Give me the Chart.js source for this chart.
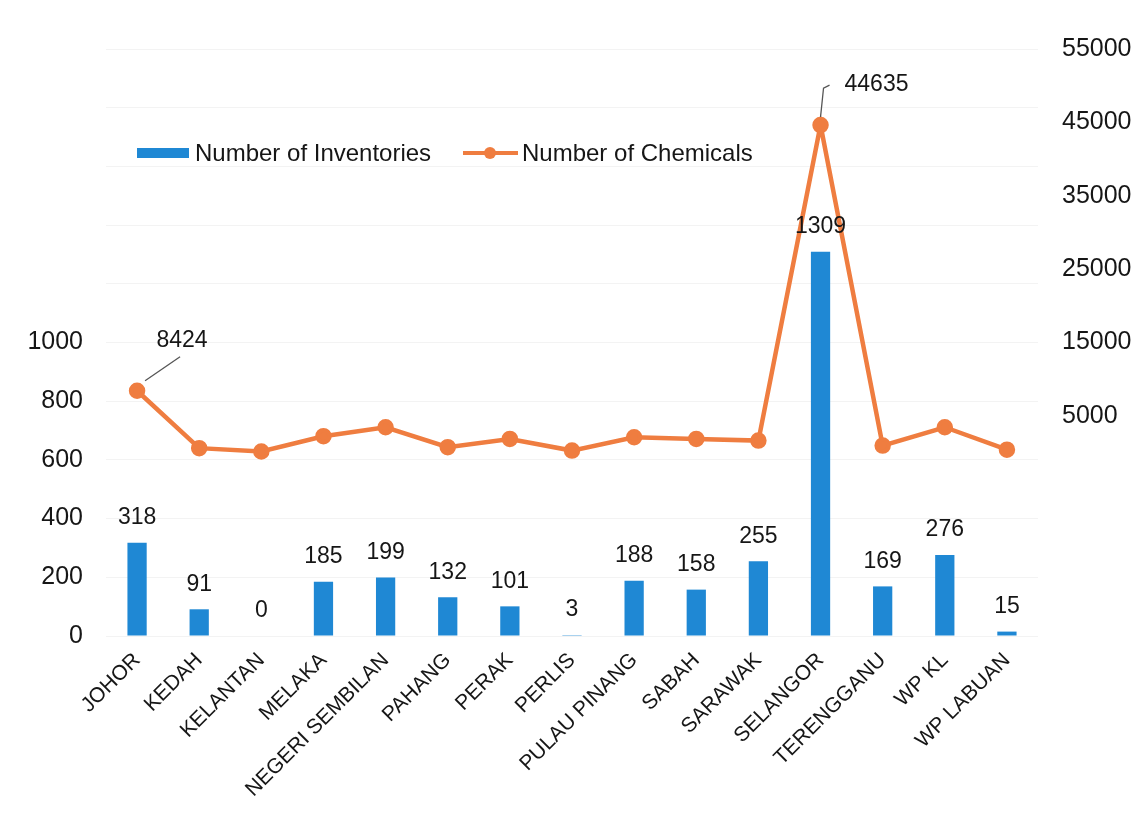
<!DOCTYPE html>
<html>
<head>
<meta charset="utf-8">
<script src="https://cdn.jsdelivr.net/npm/chart.js@4.4.1/dist/chart.umd.min.js"></script>
<style>
  html, body { margin: 0; padding: 0; background: #ffffff; }
  #wrap { width: 1137px; height: 819px; position: relative; }
</style>
</head>
<body>
<div id="wrap"><canvas id="c" width="1137" height="819"></canvas></div>
<script>
// States of Malaysia
const states = ['JOHOR', 'KEDAH', 'KELANTAN', 'MELAKA', 'NEGERI SEMBILAN', 'PAHANG', 'PERAK',
  'PERLIS', 'PULAU PINANG', 'SABAH', 'SARAWAK', 'SELANGOR', 'TERENGGANU', 'WP KL', 'WP LABUAN'];

// Number of inventories per state (left axis)
const inventories = [318, 91, 0, 185, 199, 132, 101, 3, 188, 158, 255, 1309, 169, 276, 15];

// Number of chemicals per state (right axis)
const chemicals = [8424, 600, 140, 2230, 3450, 730, 1860, 270, 2090, 1860, 1630, 44635, 950, 3450, 400];

// Tick labels shown on each value axis
const inventoryTicks = [0, 200, 400, 600, 800, 1000];
const chemicalTicks = [5000, 15000, 25000, 35000, 45000, 55000];

// Chemical counts that carry a value label
const labelledChemicals = ['JOHOR', 'SELANGOR'];

const FONT = "'Liberation Sans', Arial, sans-serif";
const BLUE = '#1f88d4';
const ORANGE = '#ef7d40';
const TEXT = '#161616';

// Legend drawn inside the plot area
const insideLegend = {
  id: 'insideLegend',
  afterDraw(chart) {
    const ctx = chart.ctx;
    const bar = chart.data.datasets[0];
    const line = chart.data.datasets[1];
    ctx.save();
    ctx.font = '24px ' + FONT;
    ctx.textBaseline = 'middle';
    ctx.textAlign = 'left';
    const y = 153;
    ctx.fillStyle = bar.backgroundColor;
    ctx.fillRect(137, y - 5, 52, 10);
    ctx.fillStyle = TEXT;
    ctx.fillText(bar.label, 195, y + 1);
    ctx.strokeStyle = line.borderColor;
    ctx.lineWidth = 4;
    ctx.beginPath();
    ctx.moveTo(463, y);
    ctx.lineTo(518, y);
    ctx.stroke();
    ctx.fillStyle = line.borderColor;
    ctx.beginPath();
    ctx.arc(490, y, 6, 0, Math.PI * 2);
    ctx.fill();
    ctx.fillStyle = TEXT;
    ctx.fillText(line.label, 522, y + 1);
    ctx.restore();
  }
};

// Value labels: above every bar, and with leader lines for selected line points
const valueLabels = {
  id: 'valueLabels',
  afterDatasetsDraw(chart) {
    const ctx = chart.ctx;
    ctx.save();
    ctx.fillStyle = TEXT;
    ctx.textAlign = 'center';
    ctx.textBaseline = 'middle';
    ctx.font = '23px ' + FONT;
    const barMeta = chart.getDatasetMeta(0);
    barMeta.data.forEach((el, i) => {
      ctx.fillText(String(inventories[i]), el.x, el.y - 25);
    });
    const lineMeta = chart.getDatasetMeta(1);
    ctx.strokeStyle = '#555555';
    ctx.lineWidth = 1.3;
    lineMeta.data.forEach((el, i) => {
      if (!labelledChemicals.includes(states[i])) return;
      const text = String(chemicals[i]);
      if (el.y > chart.chartArea.top + 150) {
        // leader going up and to the right
        ctx.beginPath();
        ctx.moveTo(el.x + 8, el.y - 10);
        ctx.lineTo(el.x + 43, el.y - 34);
        ctx.stroke();
        ctx.textAlign = 'center';
        ctx.fillText(text, el.x + 45, el.y - 50);
      } else {
        // near-vertical leader with a short hook at the top
        ctx.beginPath();
        ctx.moveTo(el.x, el.y - 8);
        ctx.lineTo(el.x + 3, el.y - 37);
        ctx.lineTo(el.x + 9, el.y - 40);
        ctx.stroke();
        ctx.textAlign = 'left';
        ctx.fillText(text, el.x + 24, el.y - 40);
      }
    });
    ctx.restore();
  }
};

new Chart(document.getElementById('c'), {
  data: {
    labels: states,
    datasets: [
      {
        type: 'bar',
        label: 'Number of Inventories',
        data: inventories,
        yAxisID: 'y',
        backgroundColor: BLUE,
        barPercentage: 0.31,
        categoryPercentage: 1,
        order: 1
      },
      {
        type: 'line',
        label: 'Number of Chemicals',
        data: chemicals,
        yAxisID: 'y1',
        borderColor: ORANGE,
        backgroundColor: ORANGE,
        borderWidth: 4.5,
        pointRadius: 6,
        pointBackgroundColor: ORANGE,
        pointBorderColor: ORANGE,
        tension: 0,
        order: 0
      }
    ]
  },
  options: {
    responsive: false,
    animation: false,
    layout: { padding: { top: 49, left: 0, right: 0, bottom: 0 } },
    plugins: {
      legend: { display: false },
      tooltip: { enabled: false }
    },
    scales: {
      x: {
        grid: { display: false },
        border: { display: false },
        ticks: {
          font: { family: FONT, size: 21 },
          color: TEXT,
          minRotation: 45,
          maxRotation: 45,
          padding: 4,
          autoSkip: false
        },
        afterFit(s) { s.height = 183; }
      },
      y: {
        position: 'left',
        min: 0,
        max: 2000,
        grid: { color: '#f3f3f3', drawTicks: false, lineWidth: 1 },
        border: { display: false },
        ticks: {
          stepSize: 200,
          font: { family: FONT, size: 25 },
          color: TEXT,
          padding: 23,
          callback: v => inventoryTicks.includes(v) ? String(v) : ''
        },
        afterFit(s) { s.width = 106; }
      },
      y1: {
        position: 'right',
        min: -25000,
        max: 55000,
        grid: { display: false, drawTicks: false },
        border: { display: false },
        ticks: {
          stepSize: 10000,
          font: { family: FONT, size: 25 },
          color: TEXT,
          padding: 24,
          callback: v => chemicalTicks.includes(v) ? String(v) : ''
        },
        afterFit(s) { s.width = 99; }
      }
    }
  },
  plugins: [insideLegend, valueLabels]
});
</script>
</body>
</html>
